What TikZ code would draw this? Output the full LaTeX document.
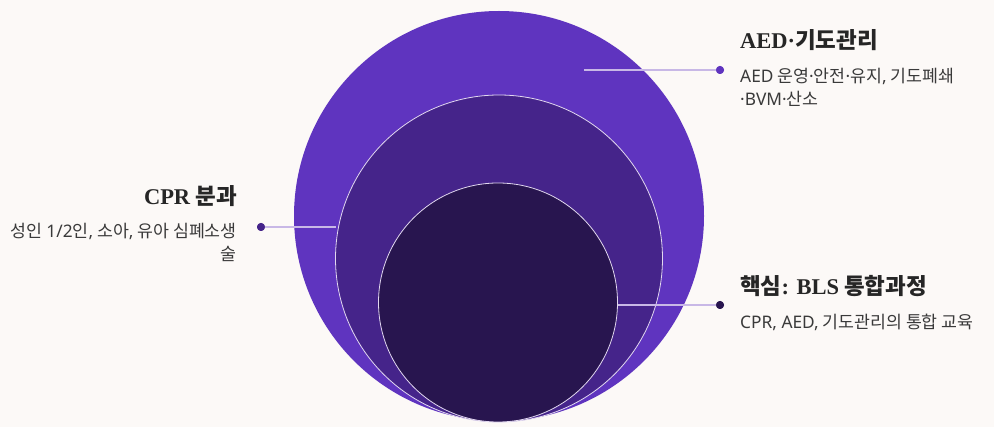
\documentclass[tikz,border=0pt]{standalone}
\usepackage{fontspec}
\setmainfont{Noto Sans CJK KR}
\newfontfamily\serfont{Liberation Serif}
\newfontfamily\latn{Noto Sans}
\newcommand{\md}{{\latn ·}}
\definecolor{bgc}{HTML}{FCF9F7}
\definecolor{outerc}{HTML}{5F34BF}
\definecolor{midc}{HTML}{45248A}
\definecolor{innerc}{HTML}{28154F}
\definecolor{linec}{HTML}{C8B8E6}
\definecolor{rimc}{HTML}{E2D8F0}
\definecolor{titlec}{HTML}{262626}
\definecolor{bodyc}{HTML}{3A3A3A}
\tikzset{
  ttl/.style={font=\fontsize{22.5}{27}\selectfont\bfseries, text=titlec, inner sep=0pt},
  bdy/.style={font=\fontsize{17.3}{21}\selectfont, text=bodyc, inner sep=0pt},
  lead/.style={draw=linec, line width=1.6pt},
  dotn/.style={circle, inner sep=0pt, minimum size=8pt},
}
\begin{document}
\begin{tikzpicture}[x=1pt,y=-1pt]
\fill[bgc] (0,0) rectangle (994,427);
\useasboundingbox (0,0) rectangle (994,427);
% circles
\fill[outerc] (499,216) circle (205);
\filldraw[fill=midc, draw=rimc, line width=0.8pt] (499,258.5) circle (163.5);
\filldraw[fill=innerc, draw=rimc, line width=0.8pt] (498,302.5) circle (119.5);
% dots and ends
\node[dotn, fill=outerc] (d1) at (720,70) {};
\node[dotn, fill=midc] (d2) at (261,227) {};
\node[dotn, fill=innerc] (d3) at (720,305) {};
\coordinate (e1) at (584,70);
\coordinate (e2) at (336,227);
\coordinate (e3) at (617.5,305);
\draw[lead] (e1) -- (d1.center);
\draw[lead] (e2) -- (d2.center);
\draw[lead] (e3) -- (d3.center);
\node[dotn, fill=outerc] at (d1) {};
\node[dotn, fill=midc] at (d2) {};
\node[dotn, fill=innerc] at (d3) {};
% texts
\node[ttl, anchor=base west] (t1) at (740,49) {{\serfont AED·}기도관리};
\node[bdy, anchor=base west] (b1a) at (740,82.5) {{\latn AED} 운영\md 안전\md 유지{\latn ,} 기도폐쇄};
\node[bdy, anchor=base west] (b1b) at (740,105.5) {{\latn ·BVM·}산소};
\node[ttl, anchor=base east] (t2) at (237,205) {{\serfont CPR} 분과};
\node[bdy, anchor=base east] (b2a) at (237,237.5) {성인 {\latn 1/2}인{\latn ,} 소아{\latn ,} 유아 심폐소생};
\node[bdy, anchor=base east] (b2b) at (237,260.5) {술};
\node[ttl, anchor=base west] (t3) at (740,295) {핵심{\serfont : BLS} 통합과정};
\node[bdy, anchor=base west] (b3) at (740,329) {{\latn CPR, AED,} 기도관리의 통합 교육};
\end{tikzpicture}
\end{document}
